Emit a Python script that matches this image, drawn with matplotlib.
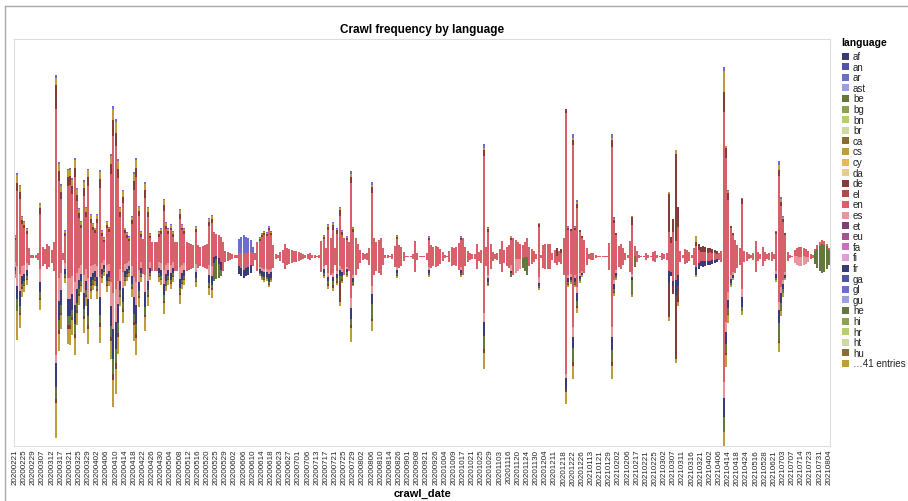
import numpy as np
import matplotlib
matplotlib.use('Agg')
import matplotlib.pyplot as plt
from matplotlib.patches import Rectangle
from matplotlib.lines import Line2D

plt.rcParams['font.family'] = ['Liberation Sans', 'DejaVu Sans']

# every 4th crawl date is labelled on the axis
tick_labels = ['20200221', '20200225', '20200229', '20200307', '20200312', '20200317', '20200321',
               '20200325', '20200329', '20200402', '20200406', '20200410', '20200414', '20200418',
               '20200422', '20200426', '20200430', '20200504', '20200508', '20200512', '20200516',
               '20200520', '20200525', '20200529', '20200602', '20200606', '20200610', '20200614',
               '20200618', '20200623', '20200627', '20200701', '20200706', '20200713', '20200717',
               '20200721', '20200725', '20200729', '20200802', '20200806', '20200810', '20200814',
               '20200826', '20200901', '20200908', '20200921', '20200926', '20201004', '20201009',
               '20201017', '20201021', '20201025', '20201029', '20201103', '20201116', '20201120',
               '20201124', '20201130', '20201204', '20201211', '20201218', '20201222', '20201226',
               '20210113', '20210121', '20210129', '20210202', '20210206', '20210217', '20210221',
               '20210225', '20210302', '20210307', '20210311', '20210316', '20210321', '20210402',
               '20210406', '20210414', '20210418', '20210424', '20210516', '20210528', '20210621',
               '20210703', '20210707', '20210714', '20210723', '20210731', '20210804']

languages = ['af', 'an', 'ar', 'ast', 'be', 'bg', 'bn', 'br', 'ca', 'cs', 'cy', 'da', 'de', 'el',
             'en', 'es', 'et', 'eu', 'fa', 'fi', 'fr', 'ga', 'gl', 'gu', 'he', 'hi', 'hr', 'ht',
             'hu', 'hy', 'id', 'is', 'it', 'ja', 'ka', 'kk', 'kn', 'ko', 'la', 'lb', 'lt', 'lv',
             'mk', 'ml', 'mr', 'ms', 'nb', 'ne', 'nl', 'nn', 'oc', 'pa', 'pl', 'pt', 'ro', 'ru',
             'sk', 'sl', 'sq', 'sr', 'sv', 'sw', 'ta', 'te', 'th', 'tl', 'tr', 'uk', 'vi', 'zh']
legend_shown = 29

# crawls per date (one value per crawl date, in date order)
ar = [1,2,1,1,1,1,0,0,0,0, 0,1,0,0,0,0,0,0,3,2, 2,0,1,2,2,2,2,1,1,1, 2,1,2,1,1,1,1,2,1,1,
      1,1,2,3,3,2,1,1,1,1, 1,1,2,2,1,1,0,2,1,1, 0,0,0,1,1,1,1,1,1,1, 0,0,1,1,1,0,0,0,0,1,
      0,0,0,0,0,1,1,0,0,0, 0,0,0,0,0,0,0,0,14,16, 18,16,14,12,6,0,0,1,1,1, 1,1,1,0,0,0,0,0,0,0,
      0,0,0,0,0,0,0,0,0,0, 0,0,0,0,0,1,0,1,0,1, 0,1,1,1,0,1,0,3,2,0, 0,0,0,0,0,0,3,0,0,0,
      0,0,0,0,0,0,0,1,0,0, 0,0,0,0,0,0,0,0,0,0, 0,1,0,0,0,0,0,0,0,0, 0,0,0,0,0,1,0,0,0,0,
      0,0,0,0,0,4,0,2,0,0, 0,0,0,0,0,0,0,0,0,0, 0,0,0,0,0,0,0,0,0,0, 0,0,0,0,0,0,0,0,0,0,
      0,0,1,0,4,1,2,0,0,0, 0,0,0,0,0,0,0,0,0,0, 0,4,2,0,0,0,0,0,0,0, 0,0,0,0,0,0,0,0,0,0,
      0,0,0,0,0,0,0,0,0,0, 0,0,0,0,0,0,0,0,0,0, 0,0,0,0,0,0,0,0,0,0, 4,0,1,0,0,0,0,0,1,0,
      0,0,0,0,0,0,0,0,0,0, 0,0,0,1,4,2,1,0,0,0, 0,0,0,0,0,0,0,0,0,0, 0,0,0,0,0,0,0]
cs = [2,8,6,3,3,2,0,0,0,0, 0,4,0,0,0,0,0,0,8,8, 6,0,2,7,7,6,8,6,4,3, 6,4,7,4,3,2,4,7,2,2,
      3,2,8,12,11,8,4,6,2,2, 2,3,7,8,4,2,0,6,4,2, 0,0,0,2,2,5,3,2,3,2, 0,0,4,3,2,0,0,0,0,3,
      0,0,0,0,0,3,3,0,0,0, 0,0,0,0,0,0,0,0,0,0, 0,0,0,0,0,0,0,1,1,1, 1,1,1,0,0,0,0,0,0,0,
      0,0,0,0,0,0,0,0,0,0, 0,0,0,0,0,1,0,2,0,2, 0,1,2,1,0,1,0,3,1,0, 0,0,0,0,0,0,2,0,0,0,
      0,0,0,0,0,0,0,1,0,0, 0,0,0,0,0,0,0,0,0,0, 0,1,0,0,0,0,0,0,0,0, 0,0,0,0,0,1,0,0,0,0,
      0,0,0,0,0,2,0,1,0,0, 0,0,0,0,0,0,0,2,0,0, 0,0,0,0,0,0,0,0,0,1, 0,0,0,0,0,0,0,0,0,0,
      0,0,1,0,2,1,2,0,0,0, 0,0,0,0,0,0,0,0,0,0, 0,2,1,0,0,0,0,0,0,0, 1,0,0,0,0,0,0,0,0,0,
      0,0,0,0,0,0,2,0,0,4, 0,0,0,0,0,0,0,0,6,0, 0,0,0,0,0,0,0,0,0,0, 22,2,2,0,0,0,0,0,1,0,
      0,0,0,0,0,0,0,0,0,0, 0,0,0,0,6,4,2,0,0,0, 0,0,0,0,0,0,0,0,0,0, 0,0,0,0,0,0,0]
de = [2,8,7,4,4,3,0,0,0,0, 0,6,0,0,0,0,0,0,24,10, 8,0,3,9,9,8,10,7,5,4, 8,5,9,4,4,3,4,9,3,2,
      4,3,11,16,14,10,5,7,3,3, 2,4,9,10,5,3,0,8,5,2, 0,0,0,3,3,6,4,3,3,3, 0,0,5,3,3,0,0,0,0,3,
      0,0,0,0,0,4,4,0,0,0, 0,0,0,0,0,0,0,0,0,0, 0,0,0,0,0,0,0,2,2,2, 2,3,2,0,0,0,0,0,0,0,
      0,0,0,0,0,0,0,0,0,0, 0,0,0,0,0,2,0,4,0,6, 0,4,6,3,0,2,0,6,3,0, 0,0,0,0,0,0,6,0,0,0,
      0,0,0,0,0,0,0,2,0,0, 0,0,0,0,0,0,0,0,0,0, 0,2,0,0,0,0,0,0,0,0, 0,0,0,0,0,2,0,0,0,0,
      0,0,0,0,0,6,0,3,0,0, 0,0,0,0,0,0,0,2,0,0, 0,0,0,0,0,0,0,0,0,3, 0,0,0,0,0,0,0,8,0,4,
      0,5,3,2,6,3,4,2,2,0, 0,0,0,0,0,0,0,0,0,0, 0,8,3,2,0,0,0,0,0,0, 8,0,0,0,0,0,0,0,0,0,
      0,0,0,0,0,0,40,6,14,90, 20,0,0,0,0,0,0,0,4,6, 5,6,5,5,4,4,3,3,0,0, 20,10,8,3,2,0,0,0,5,0,
      0,0,0,0,0,0,0,0,0,0, 0,0,0,2,6,4,3,2,0,0, 0,0,0,0,0,0,0,0,0,0, 0,0,0,0,0,0,0]
en = [23,78,78,44,38,30,18,4,4,4, 8,57,20,16,26,22,14,30,255,100, 76,8,28,95,96,85,108,74,52,38,
      82,54,95,45,36,32,45,92,28,19, 38,33,111,163,148,106,54,71,32,26, 21,44,90,108,56,26,36,80,54,25,
      30,30,30,26,30,61,37,30,36,26, 30,30,50,36,30,30,28,26,24,33, 24,20,22,24,26,41,45,26,22,24,
      26,30,12,10,8,6,4,4,14,16, 18,16,16,14,14,8,30,27,32,35, 34,41,35,24,6,4,10,14,26,18,
      16,14,12,12,10,8,6,4,6,8, 4,4,2,4,32,28,18,44,38,44, 18,38,52,35,38,28,30,119,44,38,
      26,14,8,6,8,18,97,38,30,34, 38,18,4,4,2,6,22,29,24,20, 10,2,2,2,6,32,8,2,2,2,
      8,28,24,20,22,20,16,10,4,2, 12,20,18,20,28,28,38,20,12,8, 6,6,26,10,14,162,20,44,26,10,
      6,8,16,32,14,20,24,26,38,20, 18,16,14,16,20,20,16,12,6,52, 4,24,26,26,26,8,14,10,12,12,
      38,270,46,44,188,46,82,42,34,34, 18,6,8,8,4,2,2,2,2,2, 28,186,59,36,22,26,18,8,4,32,
      51,10,12,4,2,2,8,4,2,10, 12,4,2,8,6,8,40,30,50,40, 50,12,4,16,14,10,4,18,22,14,
      10,10,10,9,10,8,8,6,8,12, 280,170,95,48,38,34,24,18,88,12, 10,6,4,8,32,10,6,20,10,6,
      8,10,6,38,130,84,60,38,10,4, 2,6,8,10,10,8,8,6,6,4, 2,4,4,4,4,2,2]
es = [5,20,18,10,9,7,0,0,0,0, 0,13,0,0,0,0,0,0,8,24, 18,0,6,22,22,19,24,17,12,9, 19,12,22,11,8,7,11,21,6,5,
      9,7,25,37,34,24,12,17,7,6, 5,10,21,24,12,6,0,18,12,6, 0,0,0,6,7,14,9,7,8,6, 0,0,12,8,7,0,0,0,0,8,
      0,0,0,0,0,10,10,0,0,0, 0,0,0,0,0,0,0,0,0,0, 0,0,0,0,0,0,0,2,3,3, 3,4,3,0,0,0,0,0,0,0,
      0,0,0,0,0,0,0,0,0,0, 0,0,0,0,0,3,0,4,0,4, 0,3,4,3,0,2,0,10,3,0, 0,0,0,0,0,0,8,0,0,0,
      0,0,0,0,0,0,0,3,0,0, 0,0,0,0,0,0,0,0,0,0, 0,3,0,0,0,0,0,0,0,0, 0,0,0,0,0,3,0,0,0,0,
      0,0,0,0,0,10,0,3,0,0, 0,0,0,0,0,0,0,6,0,14, 12,10,0,0,0,0,0,0,0,6, 0,0,0,0,0,0,0,0,0,0,
      0,4,3,3,10,3,6,3,2,0, 0,0,0,0,0,0,0,0,0,0, 0,10,4,3,0,0,0,0,0,0, 3,0,0,0,0,0,0,0,0,0,
      0,0,0,0,0,0,0,0,0,0, 0,0,0,0,0,0,0,0,0,0, 0,0,0,0,0,0,0,0,0,0, 16,10,8,4,3,0,0,0,8,0,
      0,0,0,0,0,0,0,0,0,0, 0,0,0,3,8,6,4,3,0,0, 0,8,10,10,10,10,8,6,0,0, 0,0,0,0,0,0,0]
fr = [4,14,15,8,7,6,0,0,0,0, 0,11,0,0,0,0,0,0,25,20, 15,0,5,18,18,16,20,14,10,7, 16,10,18,9,7,6,9,18,5,4,
      7,6,21,31,28,20,10,14,6,5, 4,8,17,20,10,5,0,15,10,5, 0,0,0,5,6,12,7,6,7,5, 0,0,10,7,6,0,0,0,0,6,
      0,0,0,0,0,8,9,6,4,6, 8,0,0,0,0,0,0,0,8,8, 8,8,8,8,0,0,0,4,5,5, 5,8,6,0,0,0,0,0,0,0,
      0,0,0,0,0,0,0,0,0,0, 0,0,0,0,0,4,0,4,0,4, 0,4,6,4,0,3,0,12,4,0, 0,0,0,0,0,0,10,0,0,0,
      0,0,0,0,0,0,0,3,0,0, 0,0,0,0,0,0,0,0,0,0, 0,3,0,0,0,0,0,0,0,0, 0,0,0,0,0,3,0,0,0,0,
      0,0,0,0,0,14,0,4,0,0, 0,0,0,0,0,0,0,2,0,0, 0,0,0,0,0,0,0,0,0,3, 0,0,0,0,0,0,0,0,0,0,
      0,12,4,3,12,4,8,3,2,0, 0,0,0,0,0,0,0,0,0,0, 0,14,6,3,0,0,0,0,0,0, 3,0,0,0,0,0,0,0,0,0,
      0,0,0,0,0,0,12,4,6,16, 12,0,0,0,0,0,0,0,8,6, 5,6,5,4,4,4,3,3,0,0, 20,12,8,4,3,0,0,0,10,0,
      0,0,0,0,0,0,0,0,0,0, 0,0,0,4,14,10,6,3,0,0, 0,0,0,0,0,0,0,0,0,0, 0,0,0,0,0,0,0]
he = [2,12,7,4,4,3,0,0,0,0, 0,6,0,0,0,0,0,0,12,10, 8,0,3,9,9,8,10,7,5,4, 8,5,9,4,4,3,4,9,3,2,
      4,3,11,16,14,10,5,7,3,2, 2,4,9,10,5,3,0,8,5,2, 0,0,0,3,3,6,4,3,3,3, 0,0,5,3,3,0,0,0,0,3,
      0,0,0,0,0,4,4,18,20,14, 6,0,0,0,0,0,0,0,0,0, 0,0,0,0,0,0,0,1,2,2, 2,2,2,0,0,0,0,0,0,0,
      0,0,0,0,0,0,0,0,0,0, 0,0,0,0,0,2,0,3,0,4, 0,3,5,3,0,2,0,6,2,0, 0,0,0,0,0,0,16,0,0,0,
      0,0,0,0,0,0,0,2,0,0, 0,0,0,0,0,0,0,0,0,0, 0,1,0,0,0,0,0,0,0,0, 0,0,0,0,0,1,0,0,0,0,
      0,0,0,0,0,14,0,2,0,0, 0,0,0,0,0,0,0,4,0,0, 0,0,10,14,18,0,0,0,0,2, 0,0,0,0,0,0,0,0,0,0,
      0,0,2,2,14,2,5,2,0,0, 0,0,0,0,0,0,0,0,0,0, 0,12,3,2,0,0,0,0,0,0, 16,12,0,0,0,0,0,0,0,0,
      0,0,0,0,0,0,0,0,0,0, 0,0,0,0,0,0,0,0,0,0, 0,0,0,0,0,0,0,0,0,0, 16,10,6,2,0,0,0,0,4,0,
      0,0,0,0,0,0,0,0,0,0, 0,0,0,2,18,8,4,0,0,0, 0,0,0,0,0,0,0,0,0,0, 14,20,26,30,28,24,16]
it = [1,0,3,2,1,1,0,0,0,0, 0,2,0,0,0,0,0,0,5,4, 3,0,1,4,4,3,4,3,2,1, 3,2,4,2,1,1,2,4,1,1,
      1,1,4,6,6,4,2,3,1,1, 1,2,3,4,2,1,0,3,2,1, 0,0,0,1,1,2,1,1,1,1, 0,0,2,1,1,0,0,0,0,1,
      0,0,0,0,0,2,2,0,0,0, 0,0,0,0,0,0,0,0,0,0, 0,0,0,0,0,0,0,0,0,1, 0,1,0,0,0,0,0,0,0,0,
      0,0,0,0,0,0,0,0,0,0, 0,0,0,0,0,1,0,3,0,4, 0,2,22,2,0,1,0,3,1,0, 0,0,0,0,0,0,2,0,0,0,
      0,0,0,0,0,0,0,1,0,0, 0,0,0,0,0,0,0,0,0,0, 0,1,0,0,0,0,0,0,0,0, 0,0,0,0,0,1,0,0,0,0,
      0,0,0,0,0,4,0,1,0,0, 0,0,0,0,0,0,0,0,0,0, 0,0,0,0,0,0,0,0,0,1, 0,0,0,0,0,0,0,0,0,0,
      0,2,1,0,4,1,2,0,0,0, 0,0,0,0,0,0,0,0,0,0, 0,4,1,0,0,0,0,0,0,0, 0,0,0,0,0,0,0,0,0,0,
      0,0,0,0,0,0,36,0,8,66, 16,0,0,0,0,0,0,0,0,0, 0,0,0,0,0,0,0,0,0,0, 0,2,2,0,0,0,0,0,0,0,
      0,0,0,0,0,0,0,0,0,0, 0,0,0,0,2,0,0,0,0,0, 0,0,0,0,0,0,0,0,0,0, 0,0,0,0,0,0,0]
zh = [4,30,13,8,7,5,0,0,0,0, 0,10,0,0,0,0,0,0,36,18, 14,0,5,16,17,15,18,13,9,7, 14,9,16,8,6,5,8,16,5,4,
      7,6,19,28,26,18,9,12,5,4, 4,8,16,18,9,5,0,14,9,4, 0,0,0,5,5,11,6,5,6,5, 0,0,9,6,5,0,0,0,0,6,
      0,0,0,0,0,7,8,0,0,0, 0,0,0,0,0,0,0,0,0,0, 0,0,0,0,0,0,0,2,2,2, 2,3,2,0,0,0,0,0,0,0,
      0,0,0,0,0,0,0,0,0,0, 0,0,0,0,0,2,0,3,0,3, 0,2,4,2,0,2,0,14,2,0, 0,0,0,0,0,0,10,0,0,0,
      0,0,0,0,0,0,0,2,0,0, 0,0,0,0,0,0,0,0,0,0, 0,2,0,0,0,0,0,0,0,0, 0,0,0,0,0,2,0,0,0,0,
      0,0,0,0,0,16,0,2,0,0, 0,0,0,0,0,0,0,0,0,0, 0,0,0,0,0,0,0,0,0,2, 0,0,0,0,0,0,0,0,0,0,
      0,13,3,2,14,3,5,2,2,0, 0,0,0,0,0,0,0,0,0,0, 0,14,3,2,0,0,0,0,0,0, 2,0,0,0,0,0,0,0,0,0,
      0,0,0,0,0,0,4,0,0,4, 4,0,0,0,0,0,0,0,2,0, 0,0,0,0,0,0,0,0,0,0, 14,12,8,3,2,0,0,0,5,0,
      0,0,0,0,0,0,0,0,0,0, 0,0,0,2,10,6,4,2,0,0, 0,0,0,0,0,0,0,0,0,0, 0,0,0,0,0,0,0]

series = {'ar': ar, 'cs': cs, 'de': de, 'en': en, 'es': es, 'fr': fr, 'he': he, 'it': it, 'zh': zh}
n = len(en)

palette = ['#393b79', '#5254a3', '#6b6ecf', '#9c9ede', '#637939', '#8ca252', '#b5cf6b', '#cedb9c',
           '#8c6d31', '#bd9e39', '#e7ba52', '#e7cb94', '#843c39', '#ad494a', '#d6616b', '#e7969c',
           '#7b4173', '#a55194', '#ce6dbd', '#de9ed6']
colors = {lang: palette[i % len(palette)] for i, lang in enumerate(languages)}

W, H = 908, 502
fig = plt.figure(figsize=(W / 100, H / 100), dpi=100)
ax = fig.add_axes([14 / W, 1 - 447 / H, 816 / W, 407 / H])

# centered stack: first language on top, each date centred on half the largest total
values = np.array([series[k] for k in series], dtype=float)
totals = values.sum(axis=0)
x = np.arange(n)
bottom = (totals.max() - totals) / 2
for k in reversed(list(series)):
    v = np.array(series[k], dtype=float)
    ax.bar(x, v, 0.9, bottom=bottom, color=colors[k], linewidth=0)
    bottom = bottom + v

ax.set_xlim(-0.5, n - 0.5)
ax.set_ylim(0, 421)
ax.set_yticks([])
ax.set_xticks(np.arange(len(tick_labels)) * 4)
ax.set_xticklabels(tick_labels, rotation=90, fontsize=5.8, color='#222222')
ax.tick_params(axis='x', length=0, pad=2)
for s in ax.spines.values():
    s.set_color('#dddddd')
    s.set_linewidth(0.8)

fig.text(422 / W, 1 - 30 / H, 'Crawl frequency by language', ha='center', va='center',
         fontsize=8.5, fontweight='bold')
fig.text(422 / W, 1 - 494 / H, 'crawl_date', ha='center', va='center',
         fontsize=8, fontweight='bold')

# legend
fig.text(841 / W, 1 - 43 / H, 'language', ha='left', va='center', fontsize=7.5, fontweight='bold')
entries = languages[:legend_shown] + ['…%d entries' % (len(languages) - legend_shown)]
for i, lab in enumerate(entries):
    yc = 57 + i * 10.6
    fig.add_artist(Rectangle((842 / W, 1 - (yc + 3.5) / H), 7 / W, 7 / H,
                             transform=fig.transFigure, facecolor=palette[i % len(palette)],
                             edgecolor='none'))
    fig.text(853 / W, 1 - yc / H, lab, ha='left', va='center', fontsize=7, color='#222222')

# notebook cell frame
fig.add_artist(Line2D([5 / W, 1], [1 - 7 / H, 1 - 7 / H], transform=fig.transFigure,
                      color='#b0a8a8', linewidth=1))
fig.add_artist(Line2D([5 / W, 5 / W], [0, 1 - 7 / H], transform=fig.transFigure,
                      color='#b0a8a8', linewidth=1))

fig.savefig('out.png', dpi=100)
